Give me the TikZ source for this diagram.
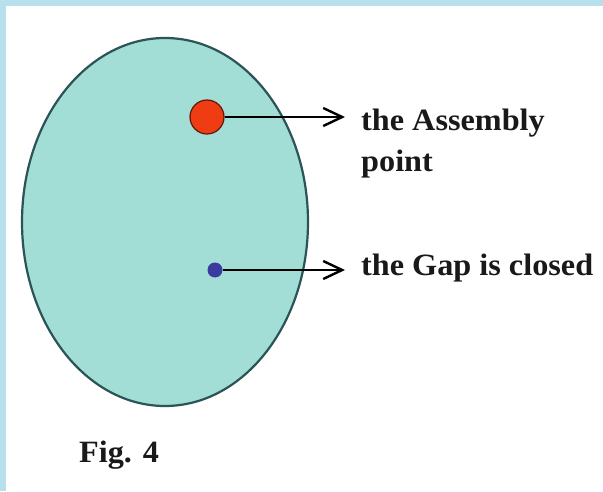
\documentclass[tikz,border=0pt]{standalone}
\usepackage{fontspec}
\setmainfont{Liberation Serif}
\usetikzlibrary{positioning,arrows.meta,calc,shapes.geometric}
\definecolor{cmarco}{HTML}{B8E0EC}
\definecolor{cagua}{HTML}{A2DDD6}
\definecolor{cborde}{HTML}{2A5456}
\definecolor{crojo}{HTML}{F03C12}
\definecolor{cazul}{HTML}{3A3AA0}
\tikzset{
  zona/.style={ellipse, draw=cborde, line width=2.2pt, fill=cagua,
    minimum width=286pt, minimum height=368pt, inner sep=0pt},
  punto/.style={circle, inner sep=0pt},
  flecha/.style={-{Straight Barb[length=19pt, width=18pt, line width=2.4pt]},
    line width=2.8pt, draw=black},
  etq/.style={font=\bfseries\fontsize{31}{41}\selectfont, align=left,
    inner sep=0pt, text=black!90, xscale=1.04, transform shape},
}
\begin{document}
\begin{tikzpicture}[x=1pt, y=1pt]
  % marco
  \fill[cmarco] (0,0) rectangle (603,491);
  \fill[white] (6,0) rectangle (603,485);
  \useasboundingbox (0,0) rectangle (603,491);
  % zona
  \node[zona] (z) at (165,269) {};
  \node[punto, fill=crojo, draw=crojo!40!black, line width=1.2pt,
    minimum size=34pt] (asm) at (207,374) {};
  \node[punto, fill=cazul, minimum size=15pt] (gap) at (215,221) {};
  % etiquetas
  \node[etq, anchor=north west] (asmlbl) at (361,382) {the Assembly\\point};
  \node[etq, anchor=base west] (gaplbl) at (361,216) {the Gap is closed};
  \draw[flecha] (asm.east) -- ($(asm -| asmlbl.west)+(-16pt,0)$);
  \draw[flecha] (gap.east) -- ($(gap -| gaplbl.west)+(-16pt,0)$);
  \node[etq, anchor=base west] (fig) at (79,29) {Fig. 4};
\end{tikzpicture}
\end{document}
